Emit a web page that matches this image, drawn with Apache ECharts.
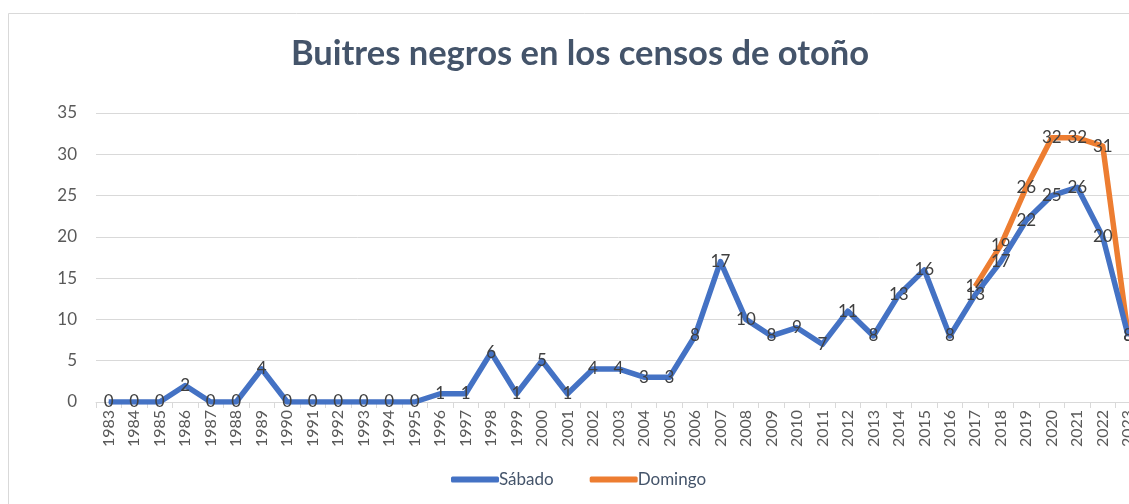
<!DOCTYPE html>
<html>
<head>
<meta charset="utf-8">
<script src="https://cdn.jsdelivr.net/npm/echarts@6/dist/echarts.min.js"></script>
<style>
  html, body { margin: 0; padding: 0; background: #fff; overflow: hidden; }
  #chart { width: 1160px; height: 504px; }
</style>
</head>
<body>
<div id="chart"></div>
<script>
// años del censo
var years = ["1983", "1984", "1985", "1986", "1987", "1988", "1989", "1990", "1991", "1992",
  "1993", "1994", "1995", "1996", "1997", "1998", "1999", "2000", "2001", "2002",
  "2003", "2004", "2005", "2006", "2007", "2008", "2009", "2010", "2011", "2012",
  "2013", "2014", "2015", "2016", "2017", "2018", "2019", "2020", "2021", "2022", "2023"];

var sabado = [0, 0, 0, 2, 0, 0, 4, 0, 0, 0,
  0, 0, 0, 1, 1, 6, 1, 5, 1, 4,
  4, 3, 3, 8, 17, 10, 8, 9, 7, 11,
  8, 13, 16, 8, 13, 17, 22, 25, 26, 20, 8];

var domingo = [null, null, null, null, null, null, null, null, null, null,
  null, null, null, null, null, null, null, null, null, null,
  null, null, null, null, null, null, null, null, null, null,
  null, null, null, null, 14, 19, 26, 32, 32, 31, 8];

var yTicks = { min: 0, max: 35, interval: 5 };

// el gráfico original queda cortado por la derecha
var myChart = echarts.init(document.getElementById("chart"));

var labelStyle = {
  show: true,
  position: "inside",
  fontFamily: "Lato",
  fontSize: 17,
  color: "#404040"
};

var option = {
  backgroundColor: "#ffffff",
  animation: false,
  graphic: [
    {
      type: "rect",
      shape: { x: 8.5, y: 13.5, width: 1300, height: 600 },
      style: { fill: "none", stroke: "#D9D9D9", lineWidth: 1 },
      silent: true
    }
  ],
  title: {
    text: "Buitres negros en los censos de otoño",
    left: 575,
    top: 31,
    textAlign: "center",
    textStyle: {
      fontFamily: "Lato",
      fontWeight: "bold",
      fontSize: 34.5,
      color: "#44546A"
    }
  },
  legend: {
    data: ["Sábado", "Domingo"],
    left: 446,
    top: 466,
    itemWidth: 48,
    itemHeight: 6,
    itemGap: 36,
    icon: "roundRect",
    textStyle: {
      fontFamily: "Lato",
      fontSize: 17,
      color: "#44546A",
      padding: [0, 0, 0, -5]
    }
  },
  grid: {
    left: 96,
    top: 113,
    width: 1045,
    height: 289,
    containLabel: false
  },
  xAxis: {
    type: "category",
    data: years,
    boundaryGap: true,
    axisLine: { lineStyle: { color: "#D9D9D9", width: 1 } },
    axisTick: { show: true, length: 6, lineStyle: { color: "#D9D9D9" } },
    axisLabel: {
      rotate: 90,
      interval: 0,
      margin: 8,
      fontFamily: "Lato",
      fontSize: 16,
      color: "#595959"
    }
  },
  yAxis: {
    type: "value",
    min: yTicks.min,
    max: yTicks.max,
    interval: yTicks.interval,
    axisLine: { show: false },
    axisTick: { show: false },
    splitLine: { lineStyle: { color: "#D9D9D9", width: 1 } },
    axisLabel: {
      margin: 19,
      fontFamily: "Lato",
      fontSize: 17,
      color: "#595959"
    }
  },
  series: [
    {
      name: "Sábado",
      type: "line",
      data: sabado,
      symbol: "circle",
      symbolSize: 1,
      showSymbol: true,
      lineStyle: { color: "#4472C4", width: 5.5, join: "round" },
      itemStyle: { color: "#4472C4" },
      label: labelStyle,
      z: 3
    },
    {
      name: "Domingo",
      type: "line",
      data: domingo,
      symbol: "circle",
      symbolSize: 1,
      showSymbol: true,
      connectNulls: false,
      lineStyle: { color: "#ED7D31", width: 5.5, join: "round" },
      itemStyle: { color: "#ED7D31" },
      label: labelStyle,
      z: 2
    }
  ]
};

myChart.setOption(option);
</script>
</body>
</html>
